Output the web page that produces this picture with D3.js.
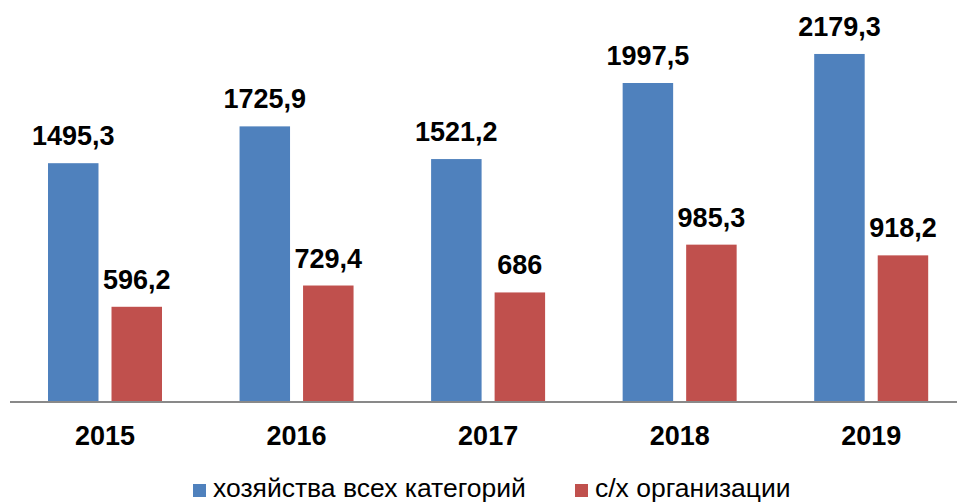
<!DOCTYPE html>
<html>
<head>
<meta charset="utf-8">
<script src="https://cdn.jsdelivr.net/npm/d3@7"></script>
<style>
    body { margin: 0; background: #fff; }
    svg { display: block; font-family: Arial, "Liberation Sans", sans-serif; }
    .bar-label, .x-label { font-weight: bold; font-size: 27px; fill: #000; }
    .legend-text { font-size: 26.5px; fill: #000; }
</style>
</head>
<body>
<div id="content"></div>
<script>
const YEARS = ['2015', '2016', '2017', '2018', '2019'];
const SERIES = ['хозяйства всех категорий', 'с/х организации'];
const ALL_FARMS = [1495.3, 1725.9, 1521.2, 1997.5, 2179.3];
const AGRI_ORGS = [596.2, 729.4, 686, 985.3, 918.2];
const LABELS_ALL = ['1495,3', '1725,9', '1521,2', '1997,5', '2179,3'];
const LABELS_ORGS = ['596,2', '729,4', '686', '985,3', '918,2'];
const COLORS = ['#4f81bd', '#c0504d'];

var width = 957;
var height = 502;
var baseline = 402;

var rows = YEARS.map(function (y, i) {
    return {
        year: y,
        values: [
            {key: SERIES[0], value: ALL_FARMS[i], label: LABELS_ALL[i]},
            {key: SERIES[1], value: AGRI_ORGS[i], label: LABELS_ORGS[i]}
        ]
    };
});

var svg = d3.select('#content')
    .append('svg')
    .attr('width', width)
    .attr('height', height);

var x0 = d3.scaleBand()
    .domain(YEARS)
    .range([9.25, 967]);

var x1 = d3.scaleBand()
    .domain(SERIES)
    .range([38.75, 152.75])
    .paddingInner(0.205);

var y = d3.scaleLinear()
    .domain([0, 2500])
    .range([baseline, baseline - 2500 * 0.1597]);

var color = d3.scaleOrdinal().domain(SERIES).range(COLORS);

var groups = svg.selectAll('.group')
    .data(rows)
    .enter()
    .append('g')
    .attr('class', 'group')
    .attr('transform', function (d) { return 'translate(' + x0(d.year) + ',0)'; });

groups.selectAll('rect')
    .data(function (d) { return d.values; })
    .enter()
    .append('rect')
    .attr('x', function (d) { return x1(d.key); })
    .attr('width', x1.bandwidth())
    .attr('y', function (d) { return y(d.value); })
    .attr('height', function (d) { return baseline - y(d.value); })
    .attr('fill', function (d) { return color(d.key); });

groups.selectAll('.bar-label')
    .data(function (d) { return d.values; })
    .enter()
    .append('text')
    .attr('class', 'bar-label')
    .attr('text-anchor', 'middle')
    .attr('x', function (d) { return x1(d.key) + x1.bandwidth() / 2; })
    .attr('y', function (d) { return y(d.value) - 18; })
    .text(function (d) { return d.label; });

// x axis
var xAxis = d3.axisBottom(x0).tickSize(0).tickPadding(0);
var gx = svg.append('g')
    .attr('transform', 'translate(0,' + baseline + ')')
    .call(xAxis);
gx.select('.domain')
    .attr('d', 'M' + 10 + ',0H' + width)
    .attr('stroke', '#898989')
    .attr('stroke-width', 2);
gx.selectAll('.tick text')
    .attr('class', 'x-label')
    .attr('dy', null)
    .attr('y', 43)
    .style('font-family', null)
    .style('font-size', null);
gx.attr('font-size', null).attr('font-family', null);

// legend (bottom edge cuts the descenders, as in the original)
var legendX = [193, 575];
var legend = svg.selectAll('.legend')
    .data(SERIES)
    .enter()
    .append('g')
    .attr('class', 'legend')
    .attr('transform', function (d, i) { return 'translate(' + legendX[i] + ',484)'; });

legend.append('rect')
    .attr('width', 13)
    .attr('height', 13)
    .attr('fill', function (d) { return color(d); });

legend.append('text')
    .attr('class', 'legend-text')
    .attr('x', 20)
    .attr('y', 13)
    .text(function (d) { return d; });
</script>
</body>
</html>
